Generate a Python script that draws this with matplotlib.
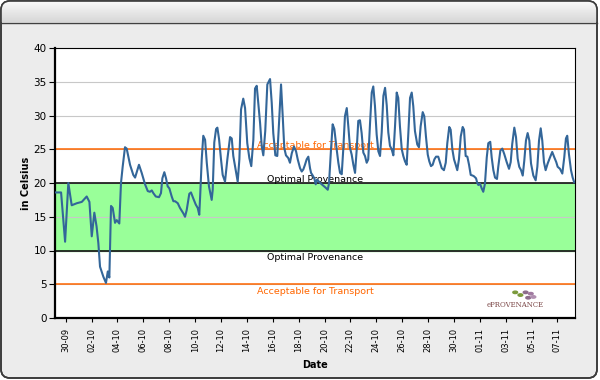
import datetime
import numpy as np
import matplotlib
matplotlib.use("Agg")
import matplotlib.pyplot as plt
import matplotlib.dates as mdates
from matplotlib.patches import FancyBboxPatch, Circle

plt.rcParams['font.family'] = ['DejaVu Sans']

# days after 30-09 00:00 and measured temperature
day = [-0.80, -0.36, -0.05, 0.20, 0.46, 0.85, 1.24, 1.62, 1.83, 2.01, 2.21, 2.38, 2.52, 2.65, 2.91,
       3.11, 3.25, 3.37, 3.50, 3.63, 3.81, 3.94, 4.14, 4.27, 4.40, 4.58, 4.71, 4.97, 5.22, 5.36,
       5.66, 5.87, 6.13, 6.34, 6.51, 6.65, 6.77, 6.96, 7.21, 7.36, 7.47, 7.62, 7.75, 7.88, 8.01,
       8.19, 8.32, 8.45, 8.66, 8.83, 9.09, 9.22, 9.35, 9.55, 9.68, 9.86, 10.05, 10.20, 10.32, 10.40,
       10.51, 10.63, 10.77, 10.90, 11.07, 11.28, 11.36, 11.48, 11.62, 11.72, 11.85,
       12.00, 12.13, 12.31, 12.49, 12.70, 12.83, 12.95, 13.16, 13.29, 13.42, 13.55, 13.72, 13.86,
       14.03, 14.19, 14.34, 14.50, 14.63, 14.76, 14.88, 15.02, 15.15, 15.27, 15.42, 15.58, 15.79,
       15.92, 16.04, 16.20, 16.35, 16.51, 16.64, 16.77, 16.89, 17.02, 17.20, 17.33, 17.47, 17.64,
       17.80, 17.93, 18.11, 18.24, 18.36, 18.49, 18.62, 18.75, 18.88, 18.96, 19.06, 19.21, 19.32,
       19.42, 19.57, 19.73, 19.91, 20.09, 20.25, 20.35,
       20.50, 20.63, 20.76, 20.94, 21.07, 21.20, 21.33, 21.45, 21.58, 21.72, 21.84, 21.97, 22.10,
       22.23, 22.36, 22.49, 22.61, 22.74, 22.87, 23.00, 23.13, 23.26, 23.38, 23.52, 23.65, 23.77,
       23.90, 24.03, 24.16, 24.29, 24.42, 24.55, 24.68, 24.81, 24.93, 25.06, 25.19, 25.32, 25.45,
       25.58, 25.70, 25.83, 25.97, 26.09, 26.22, 26.35, 26.48, 26.61, 26.74, 26.86, 26.99, 27.17,
       27.30, 27.43, 27.59, 27.71, 27.84, 27.98, 28.10, 28.23, 28.36, 28.49, 28.62, 28.79, 28.93,
       29.06, 29.23, 29.37, 29.49, 29.64, 29.75, 29.88, 30.01, 30.14, 30.26, 30.39, 30.53, 30.68,
       30.78, 30.91, 31.04, 31.17, 31.30, 31.45, 31.55, 31.71, 31.81,
       31.89, 32.02, 32.15, 32.27, 32.40, 32.54, 32.66, 32.81, 32.92, 33.05, 33.18, 33.33, 33.43,
       33.59, 33.74, 33.89, 34.08, 34.26, 34.39, 34.51, 34.67, 34.80, 34.93, 35.05, 35.19, 35.32,
       35.44, 35.57, 35.70, 35.83, 35.96, 36.14, 36.32, 36.45, 36.58, 36.71, 36.83, 36.96, 37.09,
       37.25, 37.43, 37.60, 37.76, 37.91, 38.02, 38.20, 38.38, 38.53, 38.66, 38.76, 38.89, 39.05,
       39.18, 39.30]
temp = [18.6, 18.6, 11.3, 20.0, 16.7, 17.0, 17.2, 18.0, 17.2, 12.1, 15.6, 13.6, 11.1, 7.6, 6.1,
        5.2, 6.9, 6.0, 16.6, 16.3, 14.1, 14.5, 14.0, 20.0, 22.4, 25.3, 25.1, 22.7, 21.2, 20.8,
        22.7, 21.5, 19.8, 18.8, 18.7, 18.9, 18.5, 18.0, 17.9, 18.5, 20.7, 21.6, 20.7, 19.5, 19.2,
        18.0, 17.3, 17.3, 17.0, 16.3, 15.5, 15.0, 16.0, 18.4, 18.6, 17.7, 16.8, 16.3, 15.3, 18.5,
        23.5, 27.0, 26.4, 23.0, 19.5, 17.5, 19.0, 26.0, 28.0, 28.2, 26.5,
        23.5, 21.2, 20.2, 23.5, 26.8, 26.6, 24.0, 21.7, 20.2, 23.5, 30.9, 32.5, 31.1,
        25.9, 23.7, 22.5, 26.4, 34.0, 34.4, 31.9, 28.9, 25.4, 24.1, 27.7, 34.6, 35.4,
        31.9, 27.4, 24.1, 24.0, 29.9, 34.6, 29.9, 25.2, 24.1, 23.7, 23.0, 24.4, 25.4,
        24.7, 23.5, 22.2, 21.7, 22.0, 22.7, 23.5, 23.9, 22.2, 21.5, 21.2, 20.7, 19.8,
        20.5, 20.2, 19.9, 19.6, 19.3, 19.0, 20.0,
        24.9, 28.7, 28.0, 25.0, 23.0, 21.5, 21.3, 25.0, 29.9, 31.1, 28.4, 25.2, 24.2,
        22.7, 21.5, 25.0, 29.2, 29.3, 27.4, 24.5, 24.0, 23.0, 23.5, 28.9, 33.4, 34.3,
        31.4, 27.2, 24.7, 24.0, 27.5, 32.9, 34.1, 31.5, 27.5, 25.5, 25.0, 24.1, 28.4,
        33.4, 32.6, 28.4, 25.0, 24.0, 23.2, 22.7, 27.4, 32.6, 33.4, 31.4, 27.7, 25.7,
        25.3, 28.4, 30.5, 29.9, 26.9, 24.2, 23.2, 22.5, 22.7, 23.5, 23.9, 23.9, 23.0,
        22.2, 21.9, 23.0, 25.9, 28.3, 27.9, 25.0, 23.5, 22.7, 21.9, 23.5, 26.9, 28.3,
        27.9, 24.0, 23.9, 22.7, 21.2, 21.1, 21.0, 20.7, 20.0,
        19.7, 19.9, 19.2, 18.7, 19.9, 23.8, 25.9, 26.1, 23.8, 21.9, 20.8, 20.6, 22.4,
        24.8, 25.1, 24.3, 23.1, 22.1, 23.1, 25.8, 28.2, 26.8, 23.6, 22.4, 21.9, 21.1,
        23.3, 26.3, 27.4, 26.3, 22.9, 21.1, 20.4, 22.4, 26.3, 28.1, 26.3, 23.1, 21.9,
        22.9, 23.8, 24.6, 23.8, 23.1, 22.4, 22.1, 21.4, 23.8, 26.6, 27.0, 24.3, 21.9,
        20.8, 20.1]

optimal = (10, 20)
transport = (5, 25)
y_ticks = [0, 5, 10, 15, 20, 25, 30, 35, 40]
tick_days = list(range(0, 39, 2))
x_range = (-0.83, 39.36)

base = mdates.date2num(datetime.datetime(2010, 9, 30))
x = base + np.array(day)

fig = plt.figure(figsize=(6, 3.8), dpi=100)
fig.patch.set_facecolor('white')

# window frame, pixel coordinates
bg = fig.add_axes([0, 0, 1, 1])
bg.set_xlim(0, 600)
bg.set_ylim(380, 0)
bg.axis('off')
frame = FancyBboxPatch((1, 1), 596, 377, boxstyle='round,pad=0,rounding_size=9',
                       facecolor='#ececec', edgecolor='#3c3c3c', lw=1.2, zorder=1)
bg.add_patch(frame)
grad = np.linspace(0, 1, 20).reshape(-1, 1)
im = bg.imshow(grad, cmap=matplotlib.colors.LinearSegmentedColormap.from_list(
    'bar', ['#fafafa', '#e8e8e8', '#d8d8d8']), extent=(1, 597, 22, 1), aspect='auto', zorder=2)
im.set_clip_path(frame)
bg.plot([1, 597], [22.5, 22.5], color='#404040', lw=1.0, zorder=3)
bg.add_patch(FancyBboxPatch((1, 1), 596, 377, boxstyle='round,pad=0,rounding_size=9',
                            facecolor='none', edgecolor='#3c3c3c', lw=1.2, zorder=4))

ax = fig.add_axes([55 / 600, 62 / 380, 520 / 600, 270 / 380])
ax.set_facecolor('white')
ax.axhspan(optimal[0], optimal[1], color='#99ff99', zorder=0)
for v in y_ticks[1:-1]:
    ax.axhline(v, color='#c8c8c8', lw=0.8, zorder=1)
for v in optimal:
    ax.axhline(v, color='black', lw=1.1, zorder=2)
for v in transport:
    ax.axhline(v, color='#ff6600', lw=1.1, zorder=2)

ax.plot(x, temp, color='#336699', lw=1.5, solid_joinstyle='round', zorder=4)

xm = base + (x_range[0] + x_range[1]) / 2
ax.text(xm, transport[1] + 0.15, 'Acceptable for Transport', color='#ff6600', fontsize=6.8,
        ha='center', va='baseline', zorder=3)
ax.text(xm, optimal[1] + 0.15, 'Optimal Provenance', color='black', fontsize=6.8,
        ha='center', va='baseline', zorder=3)
ax.text(xm, optimal[0] - 0.35, 'Optimal Provenance', color='black', fontsize=6.8,
        ha='center', va='top', zorder=3)
ax.text(xm, transport[0] - 0.35, 'Acceptable for Transport', color='#ff6600', fontsize=6.8,
        ha='center', va='top', zorder=3)

# small logo
ax.text(0.94, 0.035, 'ePROVENANCE', transform=ax.transAxes, family='DejaVu Serif',
        fontsize=5, color='#7a4545', ha='right', va='bottom')
for cx, cy, c in [(0.905, 0.095, '#8c6d8c'), (0.915, 0.09, '#a07aa0'), (0.91, 0.075, '#8c6d8c'),
                  (0.92, 0.078, '#b08fb0'), (0.895, 0.085, '#7b9a3c'), (0.885, 0.095, '#7b9a3c')]:
    ax.add_patch(Circle((cx, cy), 0.0045, transform=ax.transAxes, color=c, zorder=5))

ax.set_xlim(base + x_range[0], base + x_range[1])
ax.set_ylim(0, 40)
ax.set_yticks(y_ticks)
ax.set_xticks(base + np.array(tick_days))
ax.xaxis.set_major_formatter(mdates.DateFormatter('%d-%m'))
ax.tick_params(axis='y', labelsize=7.5, length=4, width=0.8, pad=2)
ax.tick_params(axis='x', labelsize=6, length=3, width=0.8, pad=4, labelrotation=90)

for s in ['left', 'bottom']:
    ax.spines[s].set_linewidth(1.6)
for s in ['top', 'right']:
    ax.spines[s].set_linewidth(0.8)

ax.set_xlabel('Date', fontsize=7, fontweight='bold', labelpad=6)
ax.set_ylabel('in Celsius', fontsize=7, fontweight='bold', labelpad=2)

fig.savefig('out.png', dpi=100, facecolor=fig.get_facecolor())
